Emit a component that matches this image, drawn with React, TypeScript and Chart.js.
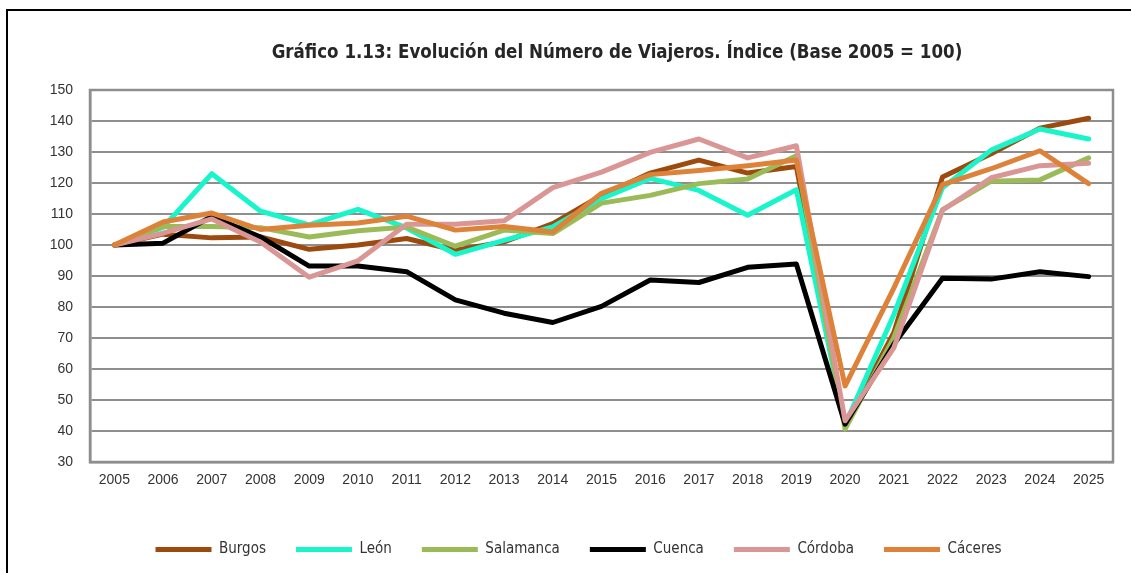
import React, { useEffect, useRef } from "react";
import { Chart, registerables } from "chart.js";

Chart.register(...registerables);

const years = ["2005","2006","2007","2008","2009","2010","2011","2012","2013","2014","2015","2016","2017","2018","2019","2020","2021","2022","2023","2024","2025"];

const burgos = [100, 103.5, 102.3, 102.6, 98.6, 100, 102.1, 98.3, 101, 106.9, 116, 123.2, 127.4, 123.2, 125.3, 42, 71.7, 121.9, 129.4, 137.7, 140.9];
const leon = [100, 105.7, 123, 110.9, 106.5, 111.5, 105.5, 97, 101.5, 105.8, 114.9, 121.5, 117.6, 109.6, 117.8, 42, 77.5, 118.5, 130.6, 137.4, 134.2];
const salamanca = [100, 106, 106, 105.6, 102.6, 104.6, 105.8, 99.6, 104.8, 103.7, 113.5, 116, 119.8, 121.3, 128.8, 40.6, 70.1, 111.4, 120.6, 121, 128.1];
const cuenca = [100, 100.6, 109.2, 102.6, 93.2, 93.2, 91.4, 82.3, 78, 75, 80.2, 88.7, 87.9, 92.8, 93.9, 42.2, 68, 89.3, 89, 91.4, 89.8];
const cordoba = [100, 103.8, 108.4, 101, 89.6, 94.9, 106.7, 106.7, 107.8, 118.5, 123.5, 129.9, 134.2, 128.1, 132, 43.3, 66.8, 111.2, 121.7, 125.6, 126.4];
const caceres = [100, 107.4, 110.3, 105, 106.4, 107.1, 109.3, 104.8, 106, 104.2, 116.7, 122.7, 124, 125.6, 127.4, 54.5, 86.1, 119.5, 124.6, 130.4, 119.8];

const seriesNames = ["Burgos", "León", "Salamanca", "Cuenca", "Córdoba", "Cáceres"];
const seriesValues = [burgos, leon, salamanca, cuenca, cordoba, caceres];
const seriesColors = ["#9C4A0E", "#19F5CB", "#9BBB59", "#000000", "#D99694", "#DD8238"];

const yMin = 30;
const yMax = 150;
const yStep = 10;

const chartTitle = "Gráfico 1.13: Evolución del Número de Viajeros. Índice (Base 2005 = 100)";

const GRID = "#8E8E8E";
const TEXT = "#333333";
const TITLE_FAMILY = '"DejaVu Sans Condensed", "DejaVu Sans", sans-serif';

const decorPlugin = {
  id: "decor",
  beforeDatasetsDraw(chart: any) {
    const { ctx, chartArea } = chart;
    ctx.save();
    ctx.strokeStyle = GRID;
    ctx.lineWidth = 2.5;
    ctx.strokeRect(chartArea.left, chartArea.top, chartArea.right - chartArea.left, chartArea.bottom - chartArea.top);
    ctx.restore();
  },
  afterDraw(chart: any) {
    const { ctx } = chart;
    ctx.save();
    ctx.fillStyle = "#262626";
    ctx.font = `bold 100px ${TITLE_FAMILY}`;
    const w100 = ctx.measureText(chartTitle).width;
    const size = Math.min(19, (691 / w100) * 100);
    ctx.font = `bold ${size}px ${TITLE_FAMILY}`;
    ctx.textAlign = "center";
    ctx.textBaseline = "middle";
    ctx.fillText(chartTitle, 617, 53);
    ctx.restore();
  },
};

export default function App() {
  const canvasRef = useRef<HTMLCanvasElement | null>(null);

  useEffect(() => {
    document.body.style.margin = "0";
    document.body.style.overflow = "hidden";
    const canvas = canvasRef.current;
    if (!canvas) return;
    const chart = new Chart(canvas, {
      type: "line",
      data: {
        labels: years,
        datasets: seriesNames.map((name, i) => ({
          label: name,
          data: seriesValues[i],
          borderColor: seriesColors[i],
          backgroundColor: seriesColors[i],
          borderWidth: 5,
          pointRadius: 0,
          pointHoverRadius: 0,
          tension: 0,
          fill: false,
          borderCapStyle: "round",
          borderJoinStyle: "round",
          pointStyle: "line",
          order: seriesNames.length - i,
        })),
      },
      options: {
        animation: false,
        responsive: false,
        maintainAspectRatio: false,
        devicePixelRatio: 1,
        layout: { padding: { left: 44, right: 18, top: 90, bottom: 6 } },
        plugins: {
          title: { display: false },
          tooltip: { enabled: false },
          legend: {
            display: true,
            position: "bottom",
            labels: {
              usePointStyle: true,
              pointStyleWidth: 56,
              boxHeight: 15,
              padding: 30,
              color: TEXT,
              font: { family: '"DejaVu Sans Condensed", "DejaVu Sans", sans-serif', size: 15 },
              sort: (a: any, b: any) => a.datasetIndex - b.datasetIndex,
            },
          },
        },
        scales: {
          x: {
            offset: true,
            grid: { display: false, drawTicks: false },
            border: { display: true, color: GRID, width: 2.5 },
            ticks: {
              color: TEXT,
              font: { family: '"Liberation Sans"', size: 14 },
              padding: 10,
              maxRotation: 0,
              autoSkip: false,
            },
            afterFit: (scale: any) => {
              scale.height = 50;
            },
          },
          y: {
            min: yMin,
            max: yMax,
            grid: { color: GRID, lineWidth: 2, drawTicks: false },
            border: { display: true, color: GRID, width: 2.5 },
            ticks: {
              stepSize: yStep,
              color: TEXT,
              font: { family: '"Liberation Sans"', size: 14 },
              padding: 17,
            },
            afterFit: (scale: any) => {
              scale.width = 46;
            },
          },
        },
      },
      plugins: [decorPlugin],
    });
    return () => chart.destroy();
  }, []);

  return (
    <div style={{ position: "relative", width: 1131, height: 573, overflow: "hidden", background: "#fff" }}>
      <div
        style={{
          position: "absolute",
          left: 6,
          top: 9,
          width: 1140,
          height: 580,
          borderLeft: "2px solid #000",
          borderTop: "2px solid #000",
          boxSizing: "border-box",
        }}
      />
      <canvas ref={canvasRef} width={1131} height={573} style={{ position: "absolute", left: 0, top: 0, width: 1131, height: 573 }} />
    </div>
  );
}
